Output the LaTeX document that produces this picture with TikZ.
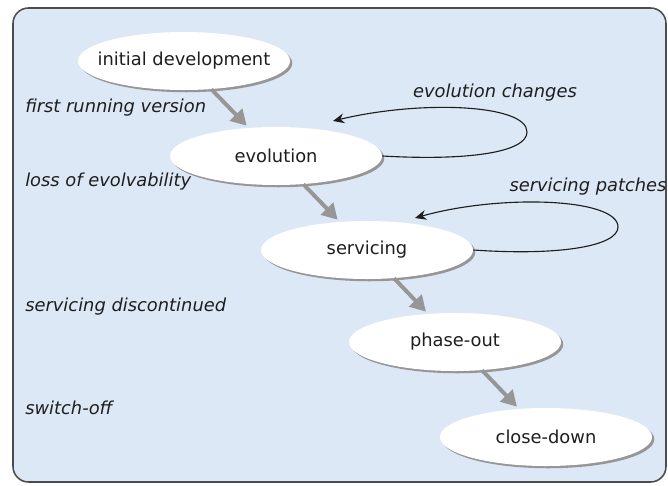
\documentclass[tikz,border=0pt]{standalone}
\usepackage{fontspec}
\setmainfont{DejaVu Sans}
\usetikzlibrary{arrows.meta}
\usetikzlibrary{shapes.geometric}
\usetikzlibrary{shadows}

\definecolor{panelblue}{RGB}{220,232,246}
\definecolor{flowgray}{RGB}{150,150,150}
\definecolor{inkgray}{RGB}{30,30,30}

\newcommand{\phasename}[1]{\makebox[0pt]{#1}}

\tikzset{
	stage/.style={ellipse, fill=white, inner sep=0pt, minimum width=5.3cm, minimum height=1.45cm,
		drop shadow={shadow xshift=1.6pt, shadow yshift=-1.6pt, fill=flowgray, opacity=1}, text=inkgray},
	flow/.style={-{Triangle[length=11pt, width=12pt]}, line width=2.8pt, draw=flowgray, shorten >=2pt},
	selfloop/.style={-{Stealth[length=8pt, width=7pt]}, line width=0.8pt, draw=inkgray},
	event/.style={anchor=west, font=\itshape, text=inkgray, inner sep=0pt},
	change/.style={font=\itshape, text=inkgray, inner sep=0pt},
}

\begin{document}
\begin{tikzpicture}[x=0.025cm, y=-0.025cm]
	\fontsize{12.7}{15}\selectfont
	\useasboundingbox (0, 0) rectangle (668, 485);
	\draw[fill=panelblue, draw=black!70, line width=1.1pt, rounded corners=11pt] (13, 8) rectangle (666, 482);

	% stages
	\node[stage] (init) at (184, 61) {\phasename{initial development}};
	\node[stage] (evo) at (276, 156) {\phasename{evolution}};
	\node[stage] (serv) at (367, 250) {\phasename{servicing}};
	\node[stage] (phase) at (455, 342) {\phasename{phase-out}};
	\node[stage] (close) at (546, 437) {\phasename{close-down}};

	\draw[flow] (init) -- (evo);
	\draw[flow] (evo) -- (serv);
	\draw[flow] (serv) -- (phase);
	\draw[flow] (phase) -- (close);

	% transitions
	\node[event] (firstrun) at (25, 108) {first running version};
	\node[event] (losseo) at (25, 182) {loss of evolvability};
	\node[event] (servdisc) at (25, 307) {servicing discontinued};
	\node[event] (switchoff) at (25, 408) {switch-off};

	% loops
	\coordinate (evotip) at (333, 121);
	\draw[selfloop] (evo.east) .. controls (470, 161) and (527, 152) .. (527, 132)
		.. controls (527, 104) and (420, 100) .. (evotip);
	\node[change] (evochg) at (495, 93) {evolution changes};

	\coordinate (servtip) at (415, 218);
	\draw[selfloop] (serv.east) .. controls (560, 256) and (618, 246) .. (618, 227)
		.. controls (618, 198) and (500, 194) .. (servtip);
	\node[change] (servpatch) at (588, 187) {servicing patches};
\end{tikzpicture}
\end{document}
